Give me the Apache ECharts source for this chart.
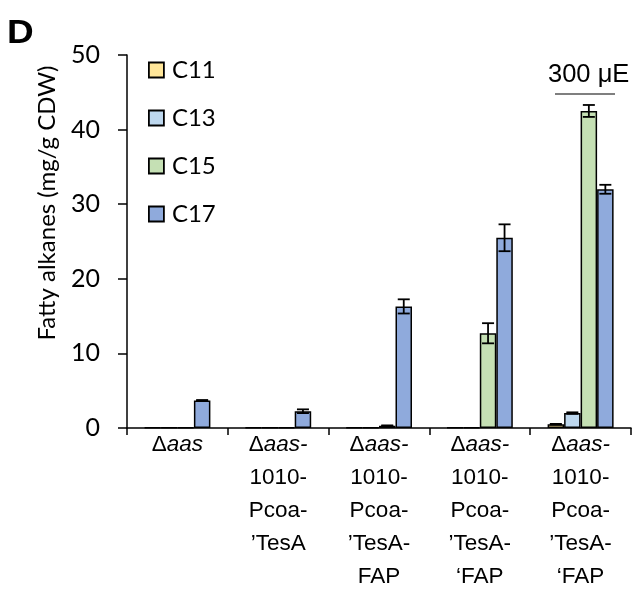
<!DOCTYPE html>
<html><head><meta charset="utf-8">
<script src="https://cdn.jsdelivr.net/npm/echarts@6/dist/echarts.min.js"></script>
<style>html,body{margin:0;padding:0;background:#fff}#c{width:632px;height:589px}</style>
</head><body><div id="c"></div>
<script>
const categories = ['Δaas', 'Δaas-\n1010-\nPcoa-\n’TesA', 'Δaas-\n1010-\nPcoa-\n’TesA-\nFAP', 'Δaas-\n1010-\nPcoa-\n’TesA-\n‘FAP', 'Δaas-\n1010-\nPcoa-\n’TesA-\n‘FAP'];
const seriesNames = ['C11', 'C13', 'C15', 'C17'];
const c11 = [0.05, 0.05, 0.05, 0.05, 0.5];
const c13 = [0.05, 0.05, 0.05, 0.05, 2.0];
const c15 = [0.05, 0.05, 0.3, 12.7, 42.5];
const c17 = [3.7, 2.25, 16.3, 25.5, 32.0];
const c11Err = [0, 0, 0, 0, 0.05];
const c13Err = [0, 0, 0, 0, 0.1];
const c15Err = [0, 0, 0.05, 1.35, 0.8];
const c17Err = [0.05, 0.25, 0.95, 1.8, 0.6];
const yTicks = [0, 10, 20, 30, 40, 50];
const colors = ['#FFE699', '#BDD7EE', '#C5E0B4', '#8FAADC'];

const values = [c11, c13, c15, c17];
const errs = [c11Err, c13Err, c15Err, c17Err];
const BW = 16.5;

const errData = [];
values.forEach((arr, s) => arr.forEach((v, i) => { if (errs[s][i] > 0) errData.push([i, v, errs[s][i], s]); }));

const chart = echarts.init(document.getElementById('c'), null, {renderer: 'canvas'});
const barSeries = seriesNames.map((n, s) => ({
  name: n, type: 'bar', data: values[s], barWidth: BW, barGap: '0%',
  itemStyle: {color: colors[s], borderColor: '#000', borderWidth: 1.5},
  emphasis: {disabled: true}
}));

chart.setOption({
  animation: false,
  grid: {left: 127, right: 1, top: 55, bottom: 161, containLabel: false},
  legend: {
    data: seriesNames, orient: 'vertical', left: 143, top: 53,
    itemWidth: 15, itemHeight: 15, itemGap: 24, icon: 'rect',
    itemStyle: {borderColor: '#000', borderWidth: 1.8},
    textStyle: {fontFamily: 'Lato', fontSize: 24, color: '#000', padding: [0, 0, 0, 3]},
    selectedMode: false
  },
  xAxis: {
    type: 'category', data: categories,
    axisLine: {lineStyle: {color: '#000', width: 1.5}},
    axisTick: {show: true, length: 7, lineStyle: {color: '#000', width: 1.5}},
    axisLabel: {
      interval: 0, margin: 0, color: '#000',
      formatter: function (val) {
        const lines = val.split('\n');
        const first = '{d|Δ}{i|' + lines[0].slice(1) + '}';
        return [first].concat(lines.slice(1).map(l => '{n|' + l + '}')).join('\n');
      },
      rich: {
        d: {fontFamily: 'Liberation Sans', fontSize: 22.5, lineHeight: 33, color: '#000'},
        i: {fontFamily: 'Liberation Sans', fontSize: 22.5, lineHeight: 33, fontStyle: 'italic', color: '#000'},
        n: {fontFamily: 'Liberation Sans', fontSize: 22.5, lineHeight: 33, color: '#000'}
      }
    }
  },
  yAxis: {
    type: 'value', min: yTicks[0], max: yTicks[yTicks.length - 1], interval: 10,
    axisLine: {show: true, lineStyle: {color: '#000', width: 1.5}},
    axisTick: {show: true, length: 9, lineStyle: {color: '#000', width: 1.5}},
    splitLine: {show: false},
    axisLabel: {fontFamily: 'Lato', fontSize: 25, color: '#000', margin: 27}
  },
  series: barSeries.concat([{
    type: 'custom', data: errData, z: 10, silent: true,
    encode: {x: 0, y: 1},
    renderItem: function (params, api) {
      const ci = api.value(0), v = api.value(1), e = api.value(2), s = api.value(3);
      const top = api.coord([ci, v + e]);
      const bot = api.coord([ci, v - e]);
      const x = top[0] + (s - 1.5) * BW;
      const hw = 6;
      const st = {stroke: '#000', lineWidth: 1.8};
      return {type: 'group', children: [
        {type: 'line', shape: {x1: x, y1: top[1], x2: x, y2: bot[1]}, style: st},
        {type: 'line', shape: {x1: x - hw, y1: top[1], x2: x + hw, y2: top[1]}, style: st},
        {type: 'line', shape: {x1: x - hw, y1: bot[1], x2: x + hw, y2: bot[1]}, style: st}
      ]};
    }
  }]),
  graphic: [
    {type: 'text', x: 7, y: 17, scaleX: 1.12, style: {text: 'D', fontFamily: 'Liberation Sans', fontWeight: 'bold', fontSize: 33, fill: '#000'}},
    {type: 'text', x: 47, y: 203, rotation: Math.PI / 2, style: {text: 'Fatty alkanes (mg/g CDW)', fontFamily: 'Lato', fontSize: 24, fill: '#000', align: 'center', verticalAlign: 'middle'}},
    {type: 'text', x: 548, y: 75, style: {text: '300 μE', fontFamily: 'Liberation Sans', fontSize: 25.5, fill: '#000', align: 'left', verticalAlign: 'middle'}},
    {type: 'line', shape: {x1: 555, y1: 94, x2: 615, y2: 94}, style: {stroke: '#000', lineWidth: 1.2}}
  ]
});
</script></body></html>
